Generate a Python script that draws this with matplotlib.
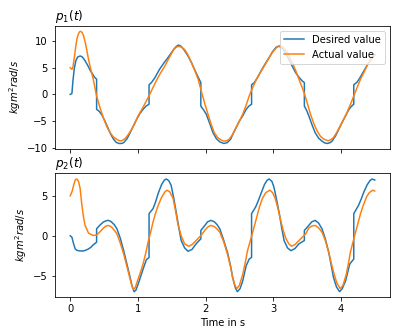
import matplotlib
matplotlib.use("Agg")
import matplotlib.pyplot as plt

# p1 desired
t_p1_des = [0.0, 0.025, 0.04, 0.06, 0.083, 0.11, 0.147, 0.18, 0.22, 0.26, 0.295, 0.33, 0.36,
            0.39, 0.39, 0.43, 0.47, 0.52, 0.565, 0.60, 0.64, 0.68, 0.72, 0.76, 0.79, 0.84,
            0.885, 0.93, 0.98, 1.03, 1.077, 1.12, 1.165, 1.165, 1.20, 1.25, 1.32, 1.38,
            1.445, 1.50, 1.54, 1.57, 1.60, 1.64, 1.69, 1.74, 1.79, 1.84, 1.88, 1.93, 1.93,
            1.97, 2.01, 2.06, 2.11, 2.16, 2.21, 2.27, 2.32, 2.37, 2.41, 2.45, 2.50, 2.55,
            2.60, 2.64, 2.68, 2.68, 2.72, 2.77, 2.82, 2.88, 2.94, 2.99, 3.04, 3.08, 3.12,
            3.17, 3.23, 3.28, 3.33, 3.38, 3.43, 3.46, 3.46, 3.49, 3.525, 3.57, 3.62, 3.67,
            3.72, 3.76, 3.80, 3.84, 3.87, 3.92, 3.97, 4.02, 4.07, 4.11, 4.15, 4.19, 4.19,
            4.24, 4.29, 4.34, 4.40, 4.46, 4.5]
p1_des = [0.0, 0.15, 2.5, 4.8, 6.3, 7.0, 7.2, 7.0, 6.3, 5.4, 4.5, 3.8, 3.2,
          2.85, -2.8, -3.2, -3.9, -5.2, -6.5, -7.5, -8.4, -9.0, -9.2, -9.2, -9.05, -8.3,
          -7.2, -6.0, -4.7, -3.6, -2.8, -2.2, -1.85, 1.8, 2.2, 3.1, 4.7, 5.8,
          6.9, 7.9, 8.6, 9.0, 9.25, 9.0, 8.2, 7.2, 6.0, 4.6, 3.5, 2.2, -2.2,
          -2.9, -3.7, -5.4, -7.2, -8.3, -8.9, -9.2, -9.05, -8.4, -7.3, -6.3, -5.0, -4.0,
          -2.8, -2.2, -1.85, 1.8, 2.2, 3.2, 4.4, 5.7, 6.9, 8.0, 8.8, 9.05, 8.8,
          8.0, 6.6, 5.3, 4.1, 3.2, 2.5, 2.2, -2.2, -2.9, -4.0, -5.6, -7.2, -8.2,
          -8.75, -9.1, -9.2, -9.05, -8.75, -7.8, -6.5, -5.2, -4.0, -3.0, -2.3, -1.85, 1.8,
          2.3, 3.3, 4.4, 5.7, 6.9, 7.5]

# p1 actual
t_p1_act = [0.0, 0.025, 0.04, 0.06, 0.083, 0.10, 0.12, 0.14, 0.157, 0.175, 0.197, 0.23,
            0.27, 0.30, 0.34, 0.39, 0.44, 0.49, 0.54, 0.59, 0.64, 0.69, 0.73, 0.76, 0.81,
            0.86, 0.91, 0.96, 1.00, 1.05, 1.10, 1.175, 1.22, 1.27, 1.33, 1.40, 1.46, 1.52,
            1.56, 1.60, 1.645, 1.69, 1.74, 1.79, 1.84, 1.89, 1.95, 1.99, 2.035, 2.08, 2.13,
            2.18, 2.23, 2.27, 2.31, 2.35, 2.40, 2.45, 2.50, 2.55, 2.60, 2.645, 2.69, 2.74,
            2.80, 2.87, 2.93, 2.99, 3.05, 3.10, 3.145, 3.19, 3.235, 3.28, 3.33, 3.38, 3.455,
            3.50, 3.55, 3.60, 3.65, 3.70, 3.75, 3.81, 3.85, 3.89, 3.94, 3.99, 4.04, 4.09,
            4.14, 4.19, 4.24, 4.29, 4.34, 4.385, 4.43, 4.47, 4.5]
p1_act = [5.0, 4.7, 5.1, 6.8, 9.1, 10.4, 11.3, 11.75, 11.8, 11.6, 11.0, 9.3,
          6.6, 4.9, 2.85, -0.3, -2.5, -4.4, -6.0, -7.2, -8.0, -8.45, -8.7, -8.7, -8.3,
          -7.5, -6.5, -5.3, -4.1, -3.0, -1.85, 0.0, 1.2, 2.5, 3.9, 5.35, 6.8, 8.2,
          8.8, 9.0, 8.85, 8.4, 7.4, 6.0, 4.5, 2.85, 0.0, -1.8, -3.7, -5.5, -7.2,
          -8.1, -8.55, -8.75, -8.7, -8.4, -7.5, -6.2, -5.0, -3.7, -2.0, -0.3, 1.1, 2.5,
          3.9, 5.35, 6.7, 7.9, 8.8, 9.1, 8.85, 8.2, 7.2, 6.0, 4.5, 2.85, 0.35,
          -1.5, -3.7, -5.5, -6.9, -7.9, -8.4, -8.7, -8.5, -8.1, -7.1, -5.9, -4.7, -3.4,
          -1.9, -0.3, 1.3, 2.85, 4.1, 5.35, 6.2, 6.9, 7.3]

# p2 desired
t_p2_des = [0.0, 0.025, 0.05, 0.074, 0.10, 0.14, 0.19, 0.23, 0.27, 0.31, 0.34, 0.39, 0.39,
            0.44, 0.49, 0.53, 0.565, 0.60, 0.65, 0.69, 0.74, 0.79, 0.84, 0.885, 0.915,
            0.944, 0.97, 1.003, 1.04, 1.077, 1.125, 1.165, 1.165, 1.224, 1.26, 1.30, 1.35,
            1.39, 1.42, 1.455, 1.49, 1.53, 1.57, 1.605, 1.64, 1.69, 1.74, 1.80, 1.86, 1.93,
            1.93, 1.99, 2.03, 2.08, 2.13, 2.17, 2.21, 2.27, 2.33, 2.37, 2.40, 2.44, 2.47,
            2.51, 2.55, 2.60, 2.645, 2.68, 2.68, 2.74, 2.78, 2.82, 2.87, 2.91, 2.94, 2.98,
            3.01, 3.05, 3.09, 3.125, 3.16, 3.21, 3.26, 3.32, 3.38, 3.46, 3.46, 3.525, 3.57,
            3.62, 3.67, 3.72, 3.77, 3.82, 3.855, 3.89, 3.935, 3.98, 4.02, 4.07, 4.13, 4.19,
            4.19, 4.26, 4.30, 4.34, 4.39, 4.43, 4.46, 4.5]
p2_des = [0.0, -0.17, -1.0, -1.64, -1.82, -1.88, -1.9, -1.8, -1.64, -1.4, -1.13, -0.8, 0.88,
          1.35, 1.72, 1.88, 1.93, 1.8, 1.4, 0.88, -0.3, -1.85, -3.6, -5.2, -6.3,
          -6.98, -6.8, -6.05, -5.1, -4.16, -2.99, -2.7, 2.77, 3.4, 4.2, 5.3, 6.4,
          6.95, 7.1, 6.9, 6.35, 4.7, 2.77, 1.0, -0.59, -1.5, -1.93, -1.7, -1.0, -0.38,
          0.67, 1.3, 1.75, 1.93, 1.75, 1.4, 0.88, -0.6, -2.27, -3.8, -5.2, -6.5, -6.98,
          -6.6, -5.6, -3.74, -2.9, -2.7, 2.77, 3.6, 4.4, 5.3, 6.4, 6.95, 7.1, 6.8,
          6.1, 4.5, 2.77, 1.0, -0.59, -1.5, -1.85, -1.6, -1.0, -0.59, 0.67, 1.3, 1.75,
          1.93, 1.6, 0.88, -0.4, -2.06, -3.6, -5.2, -6.4, -6.98, -6.6, -5.6, -3.53, -2.9,
          2.77, 3.8, 4.6, 5.5, 6.4, 6.9, 7.1, 6.97]

# p2 actual
t_p2_act = [0.0, 0.03, 0.05, 0.075, 0.098, 0.123, 0.147, 0.17, 0.197, 0.22, 0.27, 0.34,
            0.39, 0.44, 0.49, 0.53, 0.565, 0.61, 0.65, 0.69, 0.74, 0.79, 0.84, 0.885, 0.91,
            0.934, 0.96, 1.003, 1.04, 1.077, 1.115, 1.15, 1.19, 1.224, 1.26, 1.30, 1.35,
            1.40, 1.43, 1.47, 1.52, 1.555, 1.59, 1.64, 1.69, 1.75, 1.80, 1.86, 1.94, 2.00,
            2.04, 2.08, 2.13, 2.17, 2.21, 2.27, 2.33, 2.37, 2.40, 2.43, 2.46, 2.50, 2.55,
            2.585, 2.62, 2.69, 2.73, 2.77, 2.80, 2.84, 2.89, 2.95, 2.99, 3.03, 3.07, 3.11,
            3.15, 3.19, 3.23, 3.27, 3.32, 3.38, 3.48, 3.525, 3.57, 3.62, 3.67, 3.72, 3.77,
            3.82, 3.86, 3.90, 3.94, 3.99, 4.03, 4.08, 4.11, 4.14, 4.175, 4.21, 4.25, 4.29,
            4.33, 4.38, 4.42, 4.47, 4.5]
p2_act = [5.0, 5.6, 6.3, 7.0, 7.1, 6.8, 5.9, 4.0, 2.3, 1.3, 0.34, 0.04,
          0.1, 0.5, 0.97, 1.22, 1.3, 1.1, 0.7, 0.25, -0.9, -2.27, -3.9, -5.4, -6.2,
          -6.68, -6.5, -5.4, -4.5, -3.5, -2.2, -0.8, 0.5, 1.72, 2.8, 3.8, 4.8,
          5.5, 5.7, 5.5, 4.67, 3.2, 1.5, 0.0, -1.0, -1.3, -1.1, -0.59, 0.12, 0.8,
          1.15, 1.3, 1.15, 0.85, 0.46, -0.8, -2.48, -3.9, -5.2, -6.1, -6.6, -6.2, -4.8,
          -3.4, -1.85, 0.25, 1.5, 2.77, 3.7, 4.67, 5.4, 5.7, 5.4, 4.67, 3.4, 1.93,
          0.6, -0.38, -1.0, -1.3, -1.1, -0.59, 0.25, 0.97, 1.22, 1.3, 1.0, 0.46, -0.6,
          -2.06, -3.5, -4.8, -5.9, -6.6, -6.2, -4.8, -3.5, -2.06, -0.9, 0.25, 1.5, 2.77,
          3.8, 4.88, 5.4, 5.7, 5.6]

fig = plt.figure(figsize=(397 / 72, 335 / 72), dpi=72)
ax1 = fig.add_axes([0.1385, 0.555, 0.8438, 0.368])
ax2 = fig.add_axes([0.1385, 0.1125, 0.8438, 0.370], sharex=ax1)

ax1.plot(t_p1_des, p1_des, label="Desired value")
ax1.plot(t_p1_act, p1_act, label="Actual value")
ax1.set_title("$p_1(t)$", loc="left")
ax1.set_ylabel("$kg m^2 rad/s$")
ax1.legend(loc="upper right")
ax1.tick_params(labelbottom=False)

ax2.plot(t_p2_des, p2_des)
ax2.plot(t_p2_act, p2_act)
ax2.set_title("$p_2(t)$", loc="left")
ax2.set_ylabel("$kg m^2 rad/s$")
ax2.set_xlabel("Time in s")
ax2.set_yticks([-5, 0, 5])

fig.savefig("out.png", dpi=72)
